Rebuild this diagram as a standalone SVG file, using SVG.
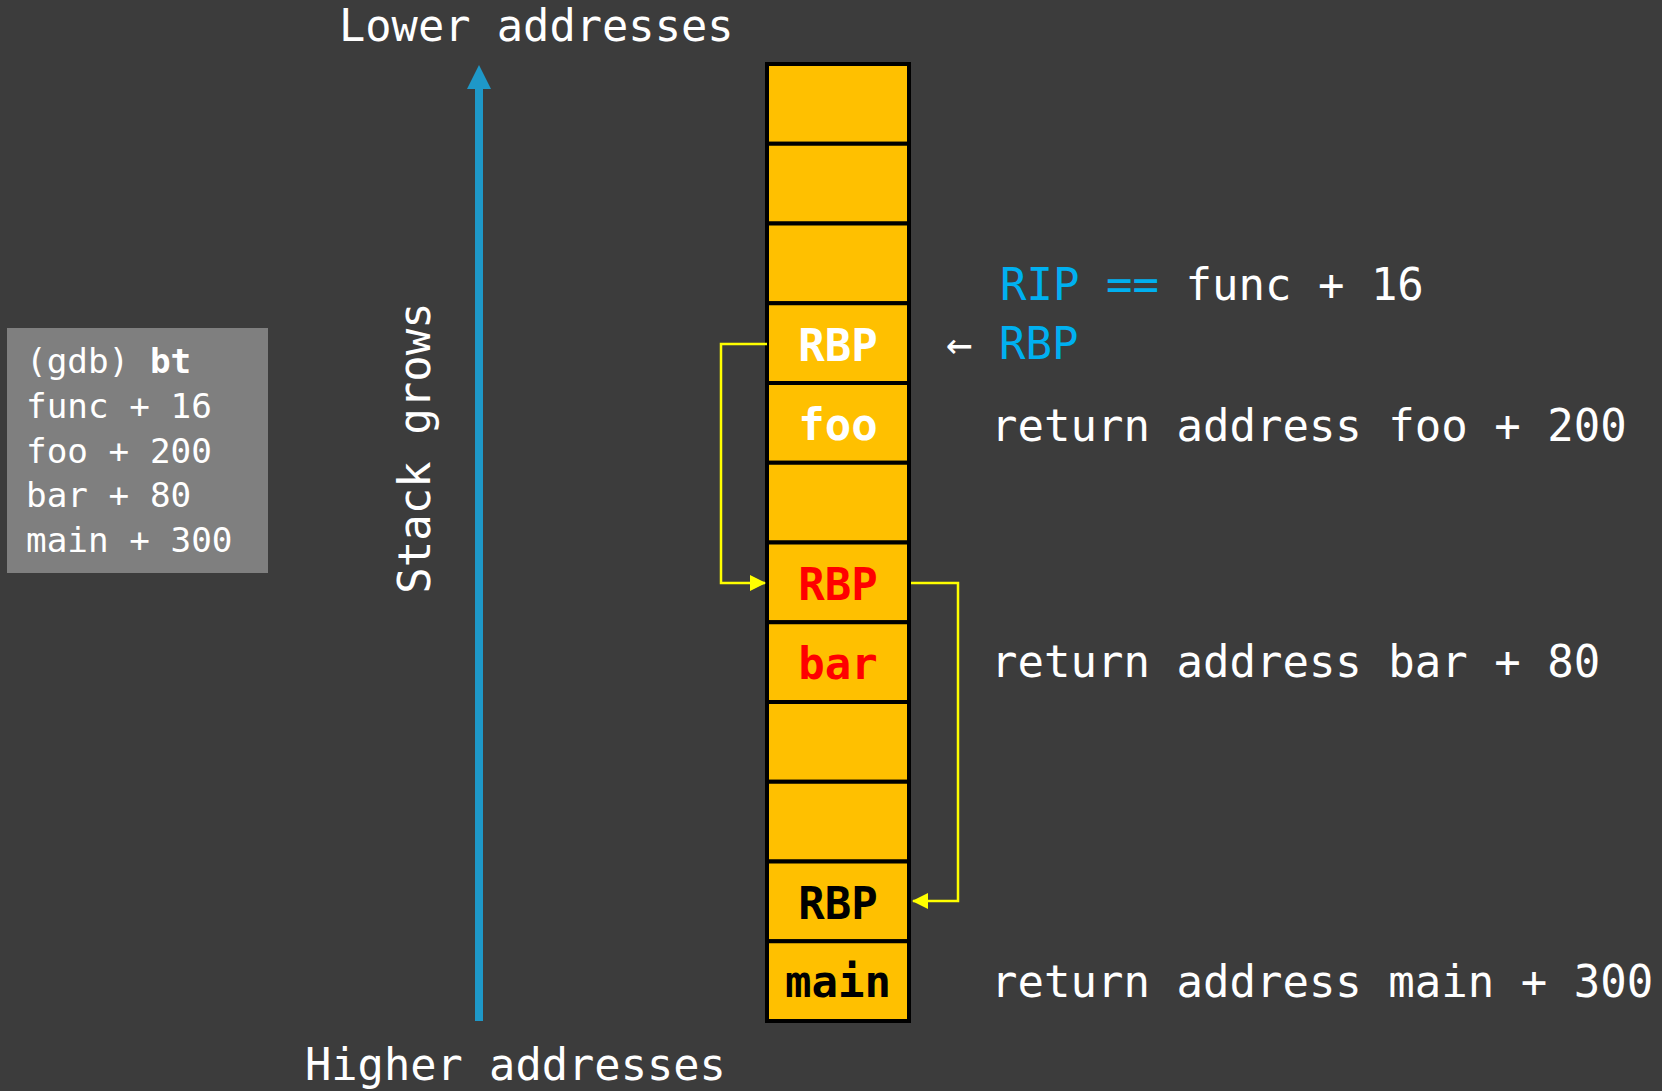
<svg xmlns="http://www.w3.org/2000/svg" width="1662" height="1091" viewBox="0 0 1662 1091">
<style>
text{font-family:"DejaVu Sans Mono","Liberation Mono",monospace;fill:#ffffff}
.cell{fill:#ffc000;stroke:#000;stroke-width:4}
.ct{font-size:44px;font-weight:bold;text-anchor:middle}
.rt{font-size:44px}
.bt{font-size:34.3px}
.addr{font-size:43.7px}
.blue{fill:#00b0f0}
.link{fill:none;stroke:#ffff00;stroke-width:2.5}
</style>
<defs>
<marker id="ya" markerUnits="userSpaceOnUse" markerWidth="16" markerHeight="18" refX="15" refY="8" orient="auto">
<path d="M0,0 L16,8 L0,16 Z" fill="#ffff00"/>
</marker>
</defs>
<rect width="1662" height="1091" fill="#3c3c3c"/>

<g id="gdb-box">
<rect x="7" y="328" width="261" height="245" fill="#7f7f7f"/>
<text class="bt" x="26" y="373">(gdb) <tspan font-weight="bold">bt</tspan></text>
<text class="bt" x="26" y="418">func + 16</text>
<text class="bt" x="26" y="463">foo + 200</text>
<text class="bt" x="26" y="507">bar + 80</text>
<text class="bt" x="26" y="552">main + 300</text>
</g>

<g id="stack-arrow">
<rect x="475" y="86" width="8" height="935" fill="#1e98c8"/>
<polygon points="467,89 491,89 479,65" fill="#1e98c8"/>
<text class="addr" x="339" y="41">Lower addresses</text>
<text class="addr" x="305" y="1080">Higher addresses</text>
<text class="rt" transform="translate(430,448) rotate(-90)" text-anchor="middle">Stack grows</text>
</g>

<g id="stack">
<rect class="cell" x="767" y="64" width="142" height="79.75"/>
<rect class="cell" x="767" y="143.75" width="142" height="79.75"/>
<rect class="cell" x="767" y="223.5" width="142" height="79.75"/>
<g id="cell-rbp1"><rect class="cell" x="767" y="303.25" width="142" height="79.75"/><text class="ct" x="838" y="361">RBP</text></g>
<g id="cell-foo"><rect class="cell" x="767" y="383" width="142" height="79.75"/><text class="ct" x="838" y="440">foo</text></g>
<rect class="cell" x="767" y="462.75" width="142" height="79.75"/>
<g id="cell-rbp2"><rect class="cell" x="767" y="542.5" width="142" height="79.75"/><text class="ct" x="838" y="600" style="fill:#ff0000">RBP</text></g>
<g id="cell-bar"><rect class="cell" x="767" y="622.25" width="142" height="79.75"/><text class="ct" x="838" y="679" style="fill:#ff0000">bar</text></g>
<rect class="cell" x="767" y="702" width="142" height="79.75"/>
<rect class="cell" x="767" y="781.75" width="142" height="79.75"/>
<g id="cell-rbp3"><rect class="cell" x="767" y="861.5" width="142" height="79.75"/><text class="ct" x="838" y="919" style="fill:#000">RBP</text></g>
<g id="cell-main"><rect class="cell" x="767" y="941.25" width="142" height="79.75"/><text class="ct" x="838" y="997" style="fill:#000">main</text></g>
</g>

<g id="connectors">
<path class="link" d="M767,344 H721 V583 H765" marker-end="url(#ya)"/>
<path class="link" d="M911,583 H958 V901 H913" marker-end="url(#ya)"/>
</g>

<g id="labels">
<text class="rt" x="1000" y="300"><tspan class="blue">RIP ==</tspan> func + 16</text>
<text class="rt" x="946" y="359">← <tspan class="blue">RBP</tspan></text>
<text class="rt" x="991" y="441">return address foo + 200</text>
<text class="rt" x="991" y="677">return address bar + 80</text>
<text class="rt" x="991" y="997">return address main + 300</text>
</g>
</svg>
